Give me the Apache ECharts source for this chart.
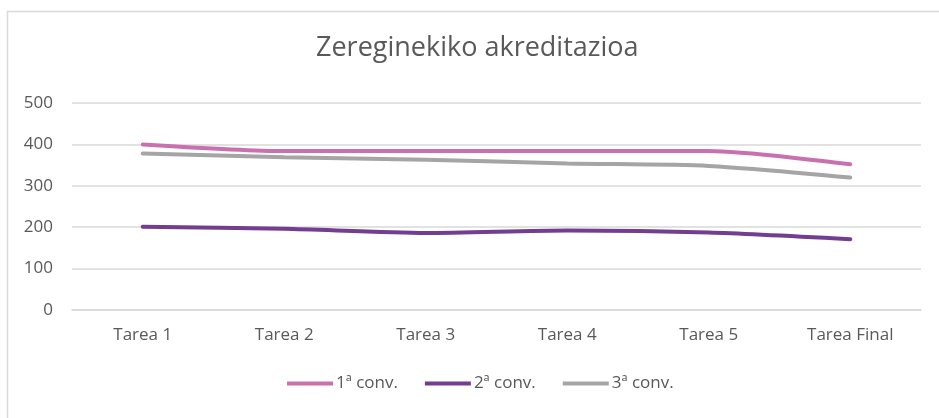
<!DOCTYPE html>
<html>
<head>
<meta charset="utf-8">
<script src="https://cdn.jsdelivr.net/npm/echarts@6/dist/echarts.min.js"></script>
<style>
    html, body { margin: 0; padding: 0; background: #fff; }
    #chart { width: 939px; height: 418px; }
</style>
</head>
<body>
<div id="chart"></div>
<script>
const categories = ['Tarea 1', 'Tarea 2', 'Tarea 3', 'Tarea 4', 'Tarea 5', 'Tarea Final']
const conv1 = [400, 384, 384, 384, 384, 352]
const conv2 = [201, 196, 186, 192, 187, 171]
const conv3 = [378, 369, 363, 354, 348, 320]
const seriesNames = ['1ª conv.', '2ª conv.', '3ª conv.']
const colors = ['#c971b0', '#733d91', '#a5a5a5']

const textColor = '#595959'
const font = 'Open Sans'

function lineSeries(name, data, color) {
    return {
        name: name,
        type: 'line',
        data: data,
        smooth: 0.25,
        symbol: 'none',
        lineStyle: { color: color, width: 4, cap: 'round' },
        itemStyle: { color: color }
    }
}

const myChart = echarts.init(document.getElementById('chart'))
myChart.setOption({
    animation: false,
    graphic: [{
        type: 'rect',
        shape: { x: 7.5, y: 11.5, width: 960, height: 440 },
        style: { fill: 'none', stroke: '#d9d9d9', lineWidth: 1.5 }
    }],
    title: {
        text: 'Zereginekiko akreditazioa',
        left: 311,
        top: 30,
        textStyle: { color: textColor, fontSize: 27, fontWeight: 'normal', fontFamily: font }
    },
    legend: {
        bottom: 21,
        left: 282,
        itemWidth: 46,
        itemHeight: 4,
        itemGap: 27,
        icon: 'rect',
        data: seriesNames,
        textStyle: { color: textColor, fontSize: 17, fontFamily: font, padding: [0, 0, 0, -2] }
    },
    grid: { left: 72, right: 18, top: 103, bottom: 108 },
    xAxis: {
        type: 'category',
        data: categories,
        boundaryGap: true,
        axisLine: { show: true, lineStyle: { color: '#d9d9d9', width: 1.5 } },
        axisTick: { show: false },
        axisLabel: { color: textColor, fontSize: 17, fontFamily: font, margin: 17 }
    },
    yAxis: {
        type: 'value',
        min: 0,
        max: 500,
        interval: 100,
        axisLine: { show: false },
        axisTick: { show: false },
        axisLabel: { color: textColor, fontSize: 17, fontFamily: font, margin: 19 },
        splitLine: { lineStyle: { color: '#d9d9d9', width: 1.5 } }
    },
    series: [
        lineSeries(seriesNames[0], conv1, colors[0]),
        lineSeries(seriesNames[1], conv2, colors[1]),
        lineSeries(seriesNames[2], conv3, colors[2])
    ]
})
</script>
</body>
</html>
